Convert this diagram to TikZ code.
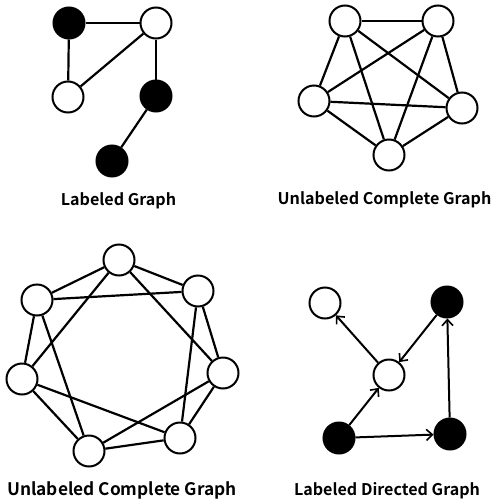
\documentclass[tikz,border=0pt]{standalone}
\usepackage{fontspec}
\setmainfont{Noto Sans CJK KR}[BoldFont={Noto Sans CJK KR Bold}]
\usetikzlibrary{arrows.meta}
\begin{document}
\begin{tikzpicture}[x=1pt,y=-1pt,
  vw/.style={circle,draw=black,fill=white,line width=2pt,minimum size=31pt,inner sep=0pt},
  vb/.style={circle,draw=black,fill=black,line width=2pt,minimum size=31pt,inner sep=0pt},
  edge/.style={line width=2.2pt,draw=black},
  arr/.style={line width=2pt,draw=black,-{Straight Barb[length=6pt,width=11pt,line width=1.6pt]}},
  lbl/.style={font=\bfseries\fontsize{16.1}{19}\selectfont,inner sep=0pt,anchor=base}]
\useasboundingbox (0,0) rectangle (494,501);
% Labeled graph
\node[vb] (a1) at (69,23) {};
\node[vw] (a2) at (156,23) {};
\node[vw] (a3) at (68,97) {};
\node[vb] (a4) at (156,96) {};
\node[vb] (a5) at (112,161) {};
\draw[edge] (a1) -- (a2);
\draw[edge] (a1) -- (a3);
\draw[edge] (a2) -- (a3);
\draw[edge] (a2) -- (a4);
\draw[edge] (a4) -- (a5);
\node[lbl] (t1) at (118.5,205) {Labeled Graph};
% K5
\node[vw] (b1) at (345,21) {};
\node[vw] (b2) at (438,21) {};
\node[vw] (b3) at (314,101) {};
\node[vw] (b4) at (462,108) {};
\node[vw] (b5) at (389,155) {};
\foreach \i/\j in {b1/b2,b1/b3,b1/b4,b1/b5,b2/b3,b2/b4,b2/b5,b3/b4,b3/b5,b4/b5}
  \draw[edge] (\i) -- (\j);
\node[lbl] (t2) at (384.5,204) {Unlabeled Complete Graph};
% C7(1,2)
\node[vw] (c1) at (119,260) {};
\node[vw] (c2) at (198,291) {};
\node[vw] (c3) at (223,373) {};
\node[vw] (c4) at (180,438) {};
\node[vw] (c5) at (89,451) {};
\node[vw] (c6) at (22,379) {};
\node[vw] (c7) at (37,300) {};
\foreach \i/\j in {c1/c2,c2/c3,c3/c4,c4/c5,c5/c6,c6/c7,c7/c1,c1/c3,c2/c4,c3/c5,c4/c6,c5/c7,c6/c1,c7/c2}
  \draw[edge] (\i) -- (\j);
\node[lbl,font=\bfseries\fontsize{17.3}{20}\selectfont] (t3) at (122,495) {Unlabeled Complete Graph};
% Directed graph
\node[vw] (d1) at (325,303) {};
\node[vb] (d2) at (447,302) {};
\node[vw] (d3) at (389,375) {};
\node[vb] (d4) at (339,438) {};
\node[vb] (d5) at (450,434) {};
\draw[arr] (d4) -- (d3);
\draw[arr] (d3) -- (d1);
\draw[arr] (d2) -- (d3);
\draw[arr] (d4) -- (d5);
\draw[arr] (d5) -- (d2);
\node[lbl] (t4) at (387,495) {Labeled Directed Graph};
\end{tikzpicture}
\end{document}
